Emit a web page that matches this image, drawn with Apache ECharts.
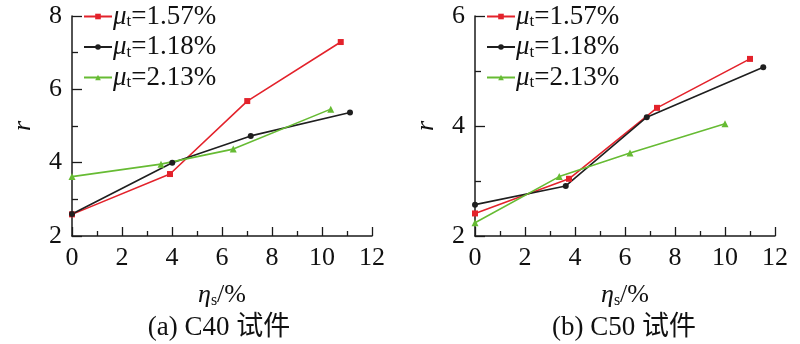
<!DOCTYPE html>
<html>
<head>
<meta charset="utf-8">
<script src="https://cdn.jsdelivr.net/npm/echarts@6/dist/echarts.min.js"></script>
<style>
  html, body { margin: 0; padding: 0; background: #fff; }
  #chart { width: 800px; height: 344px; }
</style>
</head>
<body>
<div id="chart"></div>
<script>
// Series names (μt = stirrup ratio)
const seriesNames = ['μt=1.57%', 'μt=1.18%', 'μt=2.13%'];
const seriesColors = ['#e3222b', '#1f1f1f', '#66bb33'];
const seriesSymbols = ['rect', 'circle', 'triangle'];
const seriesSymbolSizes = [6, 6, 7];

// (a) C40 specimens: ηs (%) vs r
const c40_157_x = [0, 3.92, 7.01, 10.75];
const c40_157_y = [2.59, 3.69, 5.68, 7.29];
const c40_118_x = [0, 4.01, 7.15, 11.12];
const c40_118_y = [2.60, 4.00, 4.73, 5.37];
const c40_213_x = [0, 3.56, 6.45, 10.35];
const c40_213_y = [3.62, 3.96, 4.37, 5.46];

// (b) C50 specimens
const c50_157_x = [0, 3.76, 7.28, 11.00];
const c50_157_y = [2.41, 3.04, 4.33, 5.22];
const c50_118_x = [0, 3.63, 6.87, 11.53];
const c50_118_y = [2.57, 2.91, 4.16, 5.07];
const c50_213_x = [0, 3.37, 6.20, 10.00];
const c50_213_y = [2.24, 3.08, 3.51, 4.04];

// Axis ranges
const xMin = 0, xMax = 12, xStep = 2;
const c40YMin = 2, c40YMax = 8, c40YStep = 2;
const c50YMin = 2, c50YMax = 6, c50YStep = 2;

const panelTitles = ['(a) C40 试件', '(b) C50 试件'];

const SERIF = "'Liberation Serif', 'Times New Roman', serif";
const TITLE_FONT = "'Liberation Serif', 'Noto Sans CJK SC', serif";
const AXIS_COLOR = '#1a1a1a';

function pairs(xs, ys) { return xs.map((x, i) => [x, ys[i]]); }

// Rich styles: italic symbol + lowered subscript + normal text
function richStyles(main, sub, lh) {
  return {
    i: { fontFamily: SERIF, fontStyle: 'italic', fontSize: main, lineHeight: lh, color: '#111' },
    s: { fontFamily: SERIF, fontSize: sub, lineHeight: sub, verticalAlign: 'bottom', color: '#111' },
    n: { fontFamily: SERIF, fontSize: main, lineHeight: lh, color: '#111' }
  };
}

function xAxisFor(idx) {
  return {
    gridIndex: idx, type: 'value', min: xMin, max: xMax, interval: xStep,
    name: '{i|η}{s|s}{n|/%}', nameLocation: 'middle', nameGap: 45,
    nameTextStyle: { rich: richStyles(26, 16, 28) },
    axisLine: { lineStyle: { color: AXIS_COLOR, width: 1.5 } },
    axisTick: { inside: true, length: 9, lineStyle: { color: AXIS_COLOR, width: 1.3 } },
    minorTick: { show: true, splitNumber: 2, length: 5, lineStyle: { color: AXIS_COLOR, width: 1.3 } },
    axisLabel: { fontFamily: SERIF, fontSize: 26, color: '#111', margin: 9 },
    splitLine: { show: false }
  };
}

function yAxisFor(idx, min, max, step) {
  return {
    gridIndex: idx, type: 'value', min: min, max: max, interval: step,
    name: 'r', nameLocation: 'middle', nameGap: 36, nameRotate: 90,
    nameTextStyle: { fontFamily: SERIF, fontStyle: 'italic', fontSize: 26, color: '#111' },
    axisLine: { show: true, lineStyle: { color: AXIS_COLOR, width: 1.5 } },
    axisTick: { show: true, inside: true, length: 10, lineStyle: { color: AXIS_COLOR, width: 1.3 } },
    minorTick: { show: true, splitNumber: 2, length: 6, lineStyle: { color: AXIS_COLOR, width: 1.3 } },
    axisLabel: { fontFamily: SERIF, fontSize: 26, color: '#111', margin: 10 },
    splitLine: { show: false }
  };
}

function lineSeries(k, gridIdx, data) {
  return {
    name: seriesNames[k], type: 'line', xAxisIndex: gridIdx, yAxisIndex: gridIdx,
    data: data, symbol: seriesSymbols[k], symbolSize: seriesSymbolSizes[k],
    showSymbol: true, animation: false,
    lineStyle: { color: seriesColors[k], width: 1.6 },
    itemStyle: { color: seriesColors[k] }
  };
}

function legendFor(left) {
  return {
    data: seriesNames, orient: 'vertical', left: left, top: 3, padding: 0,
    itemWidth: 28, itemHeight: 7, itemGap: 3,
    formatter: name => '{i|μ}{s|t}{n|' + name.slice(2) + '}',
    textStyle: { rich: richStyles(27, 17, 28), padding: [0, 0, 0, -4] },
    selectedMode: false
  };
}

const chart = echarts.init(document.getElementById('chart'), null, { renderer: 'canvas' });
chart.setOption({
  backgroundColor: '#fff',
  animation: false,
  title: [
    { text: panelTitles[0], left: 214, top: 309, textAlign: 'center',
      textStyle: { fontFamily: TITLE_FONT, fontSize: 27, fontWeight: 'normal', color: '#111' } },
    { text: panelTitles[1], left: 619, top: 309, textAlign: 'center',
      textStyle: { fontFamily: TITLE_FONT, fontSize: 27, fontWeight: 'normal', color: '#111' } }
  ],
  legend: [legendFor(83), legendFor(486)],
  grid: [
    { left: 72, top: 16, width: 300, height: 220 },
    { left: 475, top: 16, width: 300, height: 220 }
  ],
  xAxis: [xAxisFor(0), xAxisFor(1)],
  yAxis: [yAxisFor(0, c40YMin, c40YMax, c40YStep), yAxisFor(1, c50YMin, c50YMax, c50YStep)],
  series: [
    lineSeries(0, 0, pairs(c40_157_x, c40_157_y)),
    lineSeries(1, 0, pairs(c40_118_x, c40_118_y)),
    lineSeries(2, 0, pairs(c40_213_x, c40_213_y)),
    lineSeries(0, 1, pairs(c50_157_x, c50_157_y)),
    lineSeries(1, 1, pairs(c50_118_x, c50_118_y)),
    lineSeries(2, 1, pairs(c50_213_x, c50_213_y))
  ]
});
</script>
</body>
</html>
